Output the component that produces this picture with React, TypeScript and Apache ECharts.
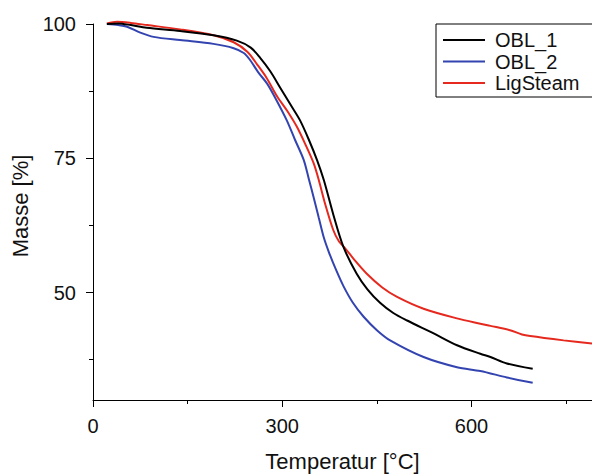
import React, { useEffect, useRef } from "react";
import * as echarts from "echarts";

const seriesNames = ["OBL_1", "OBL_2", "LigSteam"];
const seriesColors = ["#000000", "#3344b0", "#e5291f"];

const obl1: [number, number][] = [
  [22, 100], [40, 100.1], [60, 99.8], [85, 99.3], [138, 98.7], [191, 97.9], [228, 96.9],
  [250, 95.6], [265, 93.7], [281, 91.2], [297, 88.1], [313, 85], [328, 82.1], [342, 78.5],
  [355, 74.7], [366, 70.9], [381, 64.5], [397, 58.5], [418, 53.5], [435, 50.6], [455, 48.1],
  [476, 46.2], [498, 44.8], [540, 42.4], [577, 40.2], [614, 38.6], [630, 38.0], [656, 36.8],
  [697, 35.8],
];

const obl2: [number, number][] = [
  [22, 100], [40, 99.8], [54, 99.5], [75, 98.4], [96, 97.6], [138, 97.0], [191, 96.3],
  [223, 95.5], [239, 94.6], [249, 93.3], [262, 91], [276, 88.9], [290, 86], [307, 82.1],
  [320, 78.5], [334, 74.7], [342, 71.2], [350, 67.6], [358, 63.9], [366, 60.2], [374, 57.5],
  [385, 54.3], [397, 51.2], [412, 48.1], [429, 45.5], [450, 43], [471, 41.1], [524, 38.0],
  [577, 36.1], [614, 35.4], [656, 34.2], [697, 33.2],
];

const ligSteam: [number, number][] = [
  [22, 100.1], [38, 100.4], [60, 100.2], [86, 99.8], [138, 99.0], [191, 97.9], [223, 96.6],
  [245, 94.8], [260, 92.5], [275, 90], [292, 86.5], [308, 83.8], [323, 80.9], [337, 77.5],
  [350, 74], [358, 70.9], [368, 66.5], [381, 61.6], [390, 59.5], [400, 58.2], [415, 56],
  [434, 53.5], [458, 51], [482, 49.2], [524, 47.0], [577, 45.2], [614, 44.2], [630, 43.8],
  [661, 43.0], [680, 42.2], [693, 41.9], [746, 41.1], [791, 40.5],
];

const seriesData = [obl1, obl2, ligSteam];

const xMajorTicks = [0, 300, 600];
const xMinorTicks = [150, 450, 750];
const yMajorTicks = [50, 75, 100];
const yMinorTicks = [37.5, 62.5, 87.5];

const FONT = "'Liberation Sans', Arial, sans-serif";

export default function App() {
  const ref = useRef<HTMLDivElement>(null);
  useEffect(() => {
    if (!ref.current) return;
    const chart = echarts.init(ref.current, undefined, { renderer: "svg" });
    const axisLine = { show: true, lineStyle: { color: "#000", width: 1 } };
    chart.setOption({
      animation: false,
      backgroundColor: "#fff",
      textStyle: { fontFamily: FONT },
      grid: { left: 93, top: 24, right: 0, bottom: 76, containLabel: false, outerBoundsMode: "none" },
      legend: {
        data: seriesNames.map((n) => ({ name: n, icon: "rect" })),
        orient: "vertical",
        left: 436,
        top: 24,
        padding: [6, 15, 4, 7],
        itemWidth: 42,
        itemHeight: 2,
        itemGap: 1.5,
        borderColor: "#000",
        borderWidth: 1,
        backgroundColor: "#fff",
        textStyle: { fontSize: 20, color: "#111", fontFamily: FONT, padding: [0, 0, 0, 5], lineHeight: 20 },
      },
      xAxis: [
        {
          type: "value",
          min: 0,
          max: 791,
          axisLine,
          splitLine: { show: false },
          axisTick: { show: true, customValues: xMajorTicks, length: 7, lineStyle: { color: "#000" } },
          axisLabel: { customValues: xMajorTicks, fontSize: 20, color: "#111", margin: 16, fontFamily: FONT },
          name: "Temperatur [°C]",
          nameLocation: "middle",
          nameGap: 50,
          nameTextStyle: { fontSize: 22, color: "#111", fontFamily: FONT },
        },
        {
          type: "value",
          min: 0,
          max: 791,
          position: "bottom",
          axisLine: { show: false },
          splitLine: { show: false },
          axisTick: { show: true, customValues: xMinorTicks, length: 4, lineStyle: { color: "#000" } },
          axisLabel: { show: false },
        },
      ],
      yAxis: [
        {
          type: "value",
          min: 30,
          max: 100,
          axisLine,
          splitLine: { show: false },
          axisTick: { show: true, customValues: yMajorTicks, length: 7, lineStyle: { color: "#000" } },
          axisLabel: { customValues: yMajorTicks, fontSize: 20, color: "#111", margin: 17, fontFamily: FONT },
          name: "Masse [%]",
          nameLocation: "middle",
          nameGap: 59,
          nameTextStyle: { fontSize: 22, color: "#111", fontFamily: FONT, padding: [0, 0, 0, 12] },
        },
        {
          type: "value",
          min: 30,
          max: 100,
          position: "left",
          axisLine: { show: false },
          splitLine: { show: false },
          axisTick: { show: true, customValues: yMinorTicks, length: 4, lineStyle: { color: "#000" } },
          axisLabel: { show: false },
        },
      ],
      series: seriesNames.map((name, i) => ({
        name,
        type: "line",
        data: seriesData[i],
        xAxisIndex: 0,
        yAxisIndex: 0,
        symbol: "none",
        smooth: 0.3,
        clip: false,
        color: seriesColors[i],
        lineStyle: { width: 2, color: seriesColors[i] },
        z: 3 - i,
      })),
    });
    return () => chart.dispose();
  }, []);
  return (
    <div
      ref={ref}
      style={{ position: "absolute", left: 0, top: 0, width: 592, height: 476 }}
    />
  );
}
